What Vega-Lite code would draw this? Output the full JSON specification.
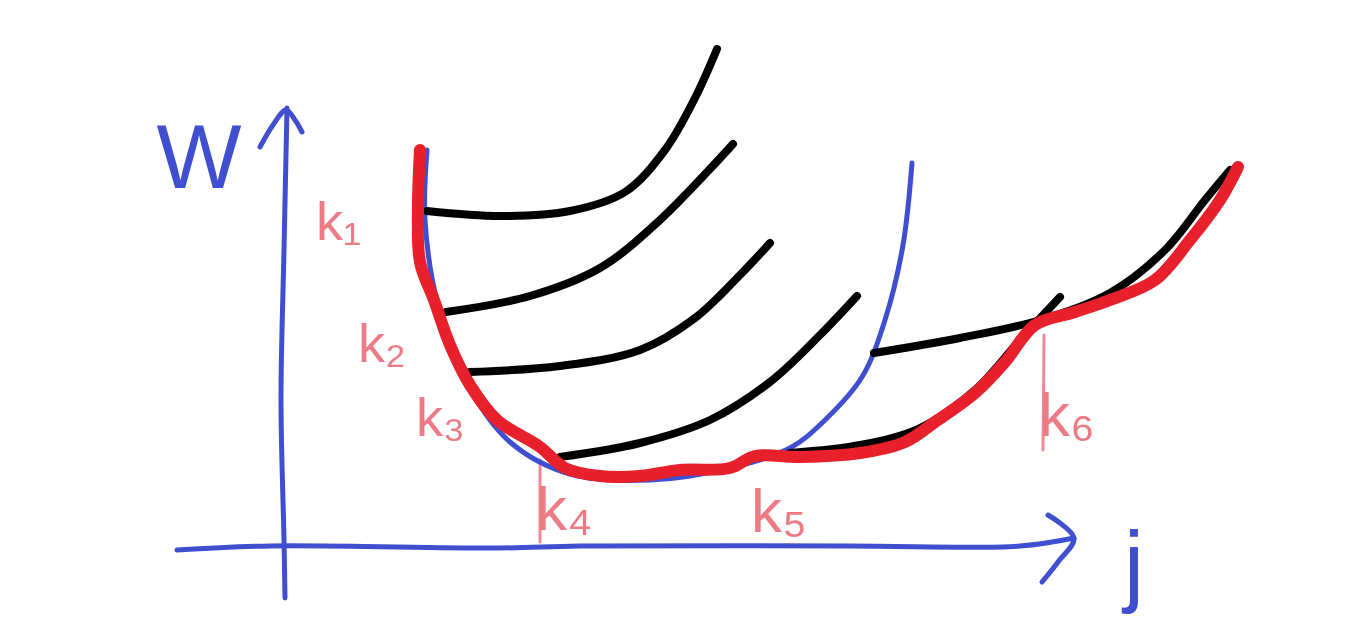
{"$schema":"https://vega.github.io/schema/vega-lite/v6.json","width":1350,"height":629,"autosize":{"type":"fit","contains":"padding"},"padding":0,"background":"white","config":{"view":{"stroke":null}},
"datasets":{"strokes":[
{"s":"yaxis","g":"axis","i":1,"x":285,"y":598},{"s":"yaxis","g":"axis","i":2,"x":284,"y":540},{"s":"yaxis","g":"axis","i":3,"x":281,"y":400},{"s":"yaxis","g":"axis","i":4,"x":284,"y":250},{"s":"yaxis","g":"axis","i":5,"x":287,"y":108},
{"s":"yarrow","g":"axis","i":1,"x":260,"y":147},{"s":"yarrow","g":"axis","i":2,"x":273,"y":125},{"s":"yarrow","g":"axis","i":3,"x":286,"y":110},{"s":"yarrow","g":"axis","i":4,"x":295,"y":120},{"s":"yarrow","g":"axis","i":5,"x":302,"y":132},
{"s":"xaxis","g":"axis","i":1,"x":177,"y":550},{"s":"xaxis","g":"axis","i":2,"x":270,"y":546},{"s":"xaxis","g":"axis","i":3,"x":500,"y":548},{"s":"xaxis","g":"axis","i":4,"x":580,"y":546},{"s":"xaxis","g":"axis","i":5,"x":850,"y":546},{"s":"xaxis","g":"axis","i":6,"x":1020,"y":546},{"s":"xaxis","g":"axis","i":7,"x":1074,"y":538},
{"s":"xarrow","g":"axis","i":1,"x":1048,"y":515},{"s":"xarrow","g":"axis","i":2,"x":1074,"y":538},{"s":"xarrow","g":"axis","i":3,"x":1058,"y":562},{"s":"xarrow","g":"axis","i":4,"x":1042,"y":582},
{"s":"env1","g":"thin","i":1,"x":427,"y":150},{"s":"env1","g":"thin","i":2,"x":425,"y":220},{"s":"env1","g":"thin","i":3,"x":438,"y":305},{"s":"env1","g":"thin","i":4,"x":468,"y":385},{"s":"env1","g":"thin","i":5,"x":510,"y":442},{"s":"env1","g":"thin","i":6,"x":570,"y":474},{"s":"env1","g":"thin","i":7,"x":650,"y":480},{"s":"env1","g":"thin","i":8,"x":730,"y":468},{"s":"env1","g":"thin","i":9,"x":790,"y":448},{"s":"env1","g":"thin","i":10,"x":825,"y":420},{"s":"env1","g":"thin","i":11,"x":862,"y":377},{"s":"env1","g":"thin","i":12,"x":885,"y":320},{"s":"env1","g":"thin","i":13,"x":903,"y":245},{"s":"env1","g":"thin","i":14,"x":912,"y":163},
{"s":"c1","g":"black","i":1,"x":427,"y":211},{"s":"c1","g":"black","i":2,"x":500,"y":216},{"s":"c1","g":"black","i":3,"x":570,"y":211},{"s":"c1","g":"black","i":4,"x":625,"y":192},{"s":"c1","g":"black","i":5,"x":665,"y":150},{"s":"c1","g":"black","i":6,"x":695,"y":98},{"s":"c1","g":"black","i":7,"x":717,"y":49},
{"s":"c2","g":"black","i":1,"x":446,"y":312},{"s":"c2","g":"black","i":2,"x":530,"y":296},{"s":"c2","g":"black","i":3,"x":600,"y":268},{"s":"c2","g":"black","i":4,"x":660,"y":220},{"s":"c2","g":"black","i":5,"x":733,"y":144},
{"s":"c3","g":"black","i":1,"x":470,"y":372},{"s":"c3","g":"black","i":2,"x":560,"y":366},{"s":"c3","g":"black","i":3,"x":640,"y":350},{"s":"c3","g":"black","i":4,"x":695,"y":318},{"s":"c3","g":"black","i":5,"x":740,"y":275},{"s":"c3","g":"black","i":6,"x":770,"y":243},
{"s":"c4","g":"black","i":1,"x":560,"y":457},{"s":"c4","g":"black","i":2,"x":640,"y":443},{"s":"c4","g":"black","i":3,"x":710,"y":420},{"s":"c4","g":"black","i":4,"x":770,"y":382},{"s":"c4","g":"black","i":5,"x":820,"y":335},{"s":"c4","g":"black","i":6,"x":857,"y":296},
{"s":"c5","g":"black","i":1,"x":790,"y":453},{"s":"c5","g":"black","i":2,"x":860,"y":445},{"s":"c5","g":"black","i":3,"x":920,"y":428},{"s":"c5","g":"black","i":4,"x":975,"y":390},{"s":"c5","g":"black","i":5,"x":1020,"y":340},{"s":"c5","g":"black","i":6,"x":1060,"y":297},
{"s":"c6","g":"black","i":1,"x":874,"y":353},{"s":"c6","g":"black","i":2,"x":960,"y":338},{"s":"c6","g":"black","i":3,"x":1040,"y":320},{"s":"c6","g":"black","i":4,"x":1110,"y":293},{"s":"c6","g":"black","i":5,"x":1165,"y":250},{"s":"c6","g":"black","i":6,"x":1205,"y":200},{"s":"c6","g":"black","i":7,"x":1230,"y":170},
{"s":"env2","g":"red","i":1,"x":420,"y":150},{"s":"env2","g":"red","i":2,"x":418,"y":205},{"s":"env2","g":"red","i":3,"x":420,"y":262},{"s":"env2","g":"red","i":4,"x":434,"y":300},{"s":"env2","g":"red","i":5,"x":450,"y":345},{"s":"env2","g":"red","i":6,"x":470,"y":385},{"s":"env2","g":"red","i":7,"x":497,"y":420},{"s":"env2","g":"red","i":8,"x":540,"y":447},{"s":"env2","g":"red","i":9,"x":565,"y":468},{"s":"env2","g":"red","i":10,"x":600,"y":476},{"s":"env2","g":"red","i":11,"x":640,"y":476},{"s":"env2","g":"red","i":12,"x":680,"y":470},{"s":"env2","g":"red","i":13,"x":730,"y":468},{"s":"env2","g":"red","i":14,"x":755,"y":456},{"s":"env2","g":"red","i":15,"x":800,"y":457},{"s":"env2","g":"red","i":16,"x":860,"y":453},{"s":"env2","g":"red","i":17,"x":905,"y":442},{"s":"env2","g":"red","i":18,"x":935,"y":422},{"s":"env2","g":"red","i":19,"x":975,"y":393},{"s":"env2","g":"red","i":20,"x":1005,"y":362},{"s":"env2","g":"red","i":21,"x":1035,"y":325},{"s":"env2","g":"red","i":22,"x":1075,"y":312},{"s":"env2","g":"red","i":23,"x":1110,"y":300},{"s":"env2","g":"red","i":24,"x":1155,"y":280},{"s":"env2","g":"red","i":25,"x":1190,"y":240},{"s":"env2","g":"red","i":26,"x":1220,"y":200},{"s":"env2","g":"red","i":27,"x":1238,"y":167},
{"s":"t4","g":"tick","i":1,"x":540,"y":460},{"s":"t4","g":"tick","i":2,"x":540,"y":542},
{"s":"t6","g":"tick","i":1,"x":1044,"y":335},{"s":"t6","g":"tick","i":2,"x":1043,"y":450},
{"s":"t5","g":"tick","i":1,"x":785,"y":545},{"s":"t5","g":"tick","i":2,"x":808,"y":546}
],"labels":[
{"t":"k₁","x":316,"y":240,"g":"small"},{"t":"k₂","x":358,"y":362,"g":"small"},{"t":"k₃","x":416,"y":436,"g":"small"},{"t":"k₄","x":536,"y":530,"g":"large"},{"t":"k₅","x":751,"y":532,"g":"large"},{"t":"k₆","x":1039,"y":436,"g":"large"}
],"names":[
{"t":"W","x":199,"y":188},{"t":"j","x":1134,"y":595}
]},
"layer":[
{"data":{"name":"strokes"},"transform":[{"filter":"datum.g==='tick'"}],"mark":{"type":"line","interpolate":"catmull-rom","strokeCap":"round","strokeJoin":"round","color":"#ee8a92","strokeWidth":3},
"encoding":{"x":{"field":"x","type":"quantitative","scale":{"domain":[0,1350],"nice":false,"zero":false},"axis":null},"y":{"field":"y","type":"quantitative","scale":{"domain":[629,0],"nice":false,"zero":false},"axis":null},"detail":{"field":"s"},"order":{"field":"i"}}},
{"data":{"name":"strokes"},"transform":[{"filter":"datum.g==='axis'"}],"mark":{"type":"line","interpolate":"catmull-rom","strokeCap":"round","strokeJoin":"round","color":"#3f4fd0","strokeWidth":5},
"encoding":{"x":{"field":"x","type":"quantitative","scale":{"domain":[0,1350],"nice":false,"zero":false},"axis":null},"y":{"field":"y","type":"quantitative","scale":{"domain":[629,0],"nice":false,"zero":false},"axis":null},"detail":{"field":"s"},"order":{"field":"i"}}},
{"data":{"name":"strokes"},"transform":[{"filter":"datum.g==='thin'"}],"mark":{"type":"line","interpolate":"catmull-rom","strokeCap":"round","strokeJoin":"round","color":"#3f4fd0","strokeWidth":5},
"encoding":{"x":{"field":"x","type":"quantitative","scale":{"domain":[0,1350],"nice":false,"zero":false},"axis":null},"y":{"field":"y","type":"quantitative","scale":{"domain":[629,0],"nice":false,"zero":false},"axis":null},"detail":{"field":"s"},"order":{"field":"i"}}},
{"data":{"name":"strokes"},"transform":[{"filter":"datum.g==='black'"}],"mark":{"type":"line","interpolate":"catmull-rom","strokeCap":"round","strokeJoin":"round","color":"#000000","strokeWidth":8},
"encoding":{"x":{"field":"x","type":"quantitative","scale":{"domain":[0,1350],"nice":false,"zero":false},"axis":null},"y":{"field":"y","type":"quantitative","scale":{"domain":[629,0],"nice":false,"zero":false},"axis":null},"detail":{"field":"s"},"order":{"field":"i"}}},
{"data":{"name":"strokes"},"transform":[{"filter":"datum.g==='red'"}],"mark":{"type":"line","interpolate":"catmull-rom","strokeCap":"round","strokeJoin":"round","color":"#e8202c","strokeWidth":12},
"encoding":{"x":{"field":"x","type":"quantitative","scale":{"domain":[0,1350],"nice":false,"zero":false},"axis":null},"y":{"field":"y","type":"quantitative","scale":{"domain":[629,0],"nice":false,"zero":false},"axis":null},"detail":{"field":"s"},"order":{"field":"i"}}},
{"data":{"name":"labels"},"transform":[{"filter":"datum.g==='small'"}],"mark":{"type":"text","font":"Liberation Sans","fontSize":54,"color":"#ee7a85","baseline":"alphabetic","align":"left"},
"encoding":{"x":{"field":"x","type":"quantitative","scale":{"domain":[0,1350],"nice":false,"zero":false},"axis":null},"y":{"field":"y","type":"quantitative","scale":{"domain":[629,0],"nice":false,"zero":false},"axis":null},"text":{"field":"t"}}},
{"data":{"name":"labels"},"transform":[{"filter":"datum.g==='large'"}],"mark":{"type":"text","font":"Liberation Sans","fontSize":62,"color":"#ee7a85","baseline":"alphabetic","align":"left"},
"encoding":{"x":{"field":"x","type":"quantitative","scale":{"domain":[0,1350],"nice":false,"zero":false},"axis":null},"y":{"field":"y","type":"quantitative","scale":{"domain":[629,0],"nice":false,"zero":false},"axis":null},"text":{"field":"t"}}},
{"data":{"name":"names"},"mark":{"type":"text","font":"Liberation Sans","fontSize":90,"color":"#3f4fd0","baseline":"alphabetic","align":"center"},
"encoding":{"x":{"field":"x","type":"quantitative","scale":{"domain":[0,1350],"nice":false,"zero":false},"axis":null},"y":{"field":"y","type":"quantitative","scale":{"domain":[629,0],"nice":false,"zero":false},"axis":null},"text":{"field":"t"}}}
]}
